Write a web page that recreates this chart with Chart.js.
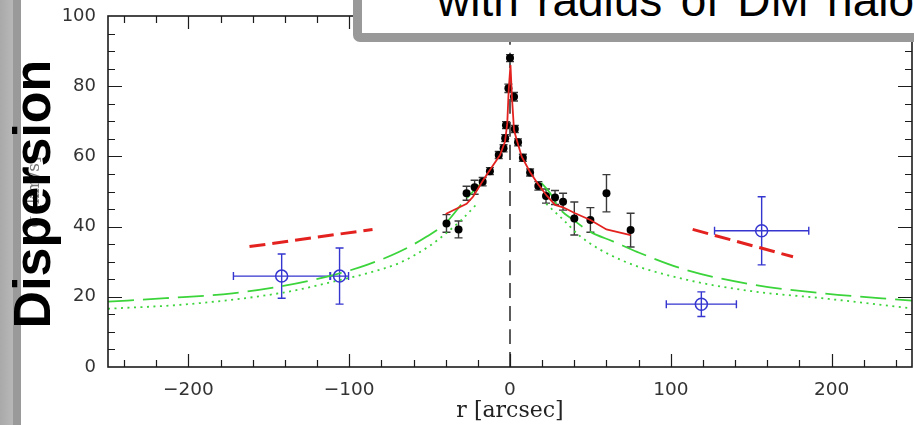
<!DOCTYPE html>
<html><head><meta charset="utf-8">
<script src="https://cdn.jsdelivr.net/npm/chart.js@4"></script>
<style>
html,body{margin:0;padding:0;background:#fff;overflow:hidden}
#wrap{position:relative;width:914px;height:425px;overflow:hidden;background:#fff}
#c{position:absolute;left:0;top:0}
#band1{position:absolute;left:0;top:0;width:13px;height:425px;background:linear-gradient(to right,#a9a9a9,#b8b8b8)}
#band2{position:absolute;left:13px;top:0;width:8px;height:425px;background:#9a9a9a}
#ylab{position:absolute;left:-67px;top:181px;width:200px;height:22px;line-height:22px;text-align:center;font-family:"DejaVu Serif";font-size:17px;color:#777;transform:rotate(-90deg);transform-origin:center}
#disp{position:absolute;left:-118px;top:168px;width:300px;height:52px;line-height:52px;text-align:center;font-family:"Liberation Sans",Arial,sans-serif;font-weight:bold;font-size:52px;color:#000;transform:rotate(-90deg);transform-origin:center;white-space:nowrap}
#box{position:absolute;left:353px;top:-40px;width:620px;height:64px;border:9px solid #999;border-radius:7px;background:#fff}
#title{position:absolute;left:437px;top:-23px;height:46px;line-height:46px;font-family:"Liberation Sans",Arial,sans-serif;font-size:46px;word-spacing:5.5px;color:#000;white-space:nowrap}
</style></head>
<body><div id="wrap">
<canvas id="c" width="914" height="425"></canvas>
<div id="band1"></div><div id="band2"></div>
<div id="ylab">σ [km/s]</div>
<div id="disp">Dispersion</div>
<div id="box"></div>
<div id="title">with radius of DM halo</div>
</div>
<script>
// ---- data ----
const obsR   = [-39.5,-32,-27,-22,-17,-12.5,-7,-4,-3,-2.5,-1,0,2.5,3,5,8,12.5,17.6,22.4,28,33,40,50,60,75];
const obsSig = [40.9,39.2,49.5,51.2,52.8,55.8,60.4,62.3,65.2,68.9,79.4,88,77,67.8,64,59.6,55.4,51.6,48.7,48.3,47.1,42.3,41.9,49.5,39];
const obsErr = [2.5,2.4,2,2,1.2,1,1,1,1,1,1.2,1,1.2,1,1,1,1,1.2,2,2,2.4,4.7,3.5,5.3,4.8];

const gcR      = [-142,-106,119,156.5];
const gcSig    = [25.9,25.9,17.9,38.8];
const gcErrR   = [30,5.6,21.8,29.3];
const gcErrSig = [6.3,8,3.5,9.7];

const modelR   = [-40,-27,-23,-16.6,-12.5,-6.2,-3.1,-1.7,-0.8,0.3,1.2,2.5,4.2,7.3,12.5,17.6,22.9,28,33,40.5,50,60,75];
const modelSig = [43.6,46.5,48.5,53.3,56.1,60.4,64.2,69.4,79,86,77,67.5,64.7,59.9,55.5,52,48.8,46.2,45.5,43.8,41.9,39.2,37.6];

const dashLeftR = [-162,-85.5],  dashLeftSig = [34.3,39.2];
const dashRightR = [113.6,176],  dashRightSig = [39.2,31.4];

const greenDashLeftR   = [-250,-214,-172.6,-141,-110,-89,-68.5,-52,-40,-29,-23,-18];
const greenDashLeftSig = [18.6,19.6,21,23.1,26.2,29.1,32.9,37.1,41,47,50,52.3];
const greenDashRightR   = [19.5,25,31,39.4,50,64,79,110,152,194,250];
const greenDashRightSig = [52.5,49.5,45,41.9,38.5,35.8,32.8,27.6,23.4,21,18.9];

const greenDotLeftR   = [-250,-200,-141,-110,-89,-68.5,-50,-40,-30,-20.5];
const greenDotLeftSig = [16.6,17.9,21.2,24.3,26.7,29.7,34.5,38,42,46.5];
const greenDotRightR   = [22.5,33,44,69,110.5,152,194,250];
const greenDotRightSig = [46.5,42,37.1,30.5,24.8,21.5,19.6,16.7];

const centreLineR = [0,0], centreLineSig = [0,100];

const xTickLabels = [-200,-100,0,100,200];
const yTickLabels = [0,20,40,60,80,100];

// ---- helpers ----
const pts = (xs, ys) => xs.map((v,i)=>({x:v,y:ys[i]}));
const RED = '#e3221f', GREEN = '#3bd43b', BLUE = '#3535d0';

const errorBars = {
  id:'errorBars',
  beforeDatasetsDraw(chart){
    const {ctx, scales:{x,y}} = chart;
    ctx.save();
    ctx.lineWidth = 1.4; ctx.strokeStyle = '#3a3a3a';
    ctx.beginPath();
    obsR.forEach((r,i)=>{
      const px = x.getPixelForValue(r);
      const y1 = y.getPixelForValue(obsSig[i]+obsErr[i]);
      const y2 = y.getPixelForValue(obsSig[i]-obsErr[i]);
      ctx.moveTo(px,y1); ctx.lineTo(px,y2);
      ctx.moveTo(px-4,y1); ctx.lineTo(px+4,y1);
      ctx.moveTo(px-4,y2); ctx.lineTo(px+4,y2);
    });
    ctx.stroke();
    ctx.strokeStyle = BLUE; ctx.lineWidth = 1.4;
    ctx.beginPath();
    gcR.forEach((r,i)=>{
      const px = x.getPixelForValue(r), py = y.getPixelForValue(gcSig[i]);
      const y1 = y.getPixelForValue(gcSig[i]+gcErrSig[i]);
      const y2 = y.getPixelForValue(gcSig[i]-gcErrSig[i]);
      const x1 = x.getPixelForValue(r-gcErrR[i]);
      const x2 = x.getPixelForValue(r+gcErrR[i]);
      ctx.moveTo(px,y1); ctx.lineTo(px,y2);
      ctx.moveTo(px-4,y1); ctx.lineTo(px+4,y1);
      ctx.moveTo(px-4,y2); ctx.lineTo(px+4,y2);
      ctx.moveTo(x1,py); ctx.lineTo(x2,py);
      ctx.moveTo(x1,py-4); ctx.lineTo(x1,py+4);
      ctx.moveTo(x2,py-4); ctx.lineTo(x2,py+4);
    });
    ctx.stroke();
    ctx.restore();
  }
};

const frame = {
  id:'frame',
  afterDatasetsDraw(chart){
    const {ctx, chartArea:{left,right,top,bottom}, scales:{x,y}} = chart;
    ctx.save();
    ctx.strokeStyle = '#1c1c1c';
    ctx.lineWidth = 1.6;
    ctx.strokeRect(left, top, right-left, bottom-top);
    ctx.lineWidth = 1.2;
    ctx.beginPath();
    for (let v=-240; v<=240; v+=20){
      const px = Math.round(x.getPixelForValue(v))+0.5;
      const len = xTickLabels.includes(v) ? 13 : 7;
      ctx.moveTo(px,bottom); ctx.lineTo(px,bottom-len);
      ctx.moveTo(px,top); ctx.lineTo(px,top+len);
    }
    for (let v=5; v<100; v+=5){
      const py = Math.round(y.getPixelForValue(v))+0.5;
      const len = yTickLabels.includes(v) ? 14 : 7;
      ctx.moveTo(left,py); ctx.lineTo(left+len,py);
      ctx.moveTo(right,py); ctx.lineTo(right-len,py);
    }
    ctx.stroke();
    ctx.restore();
  }
};

const line = (data, color, width, dash, order, extra={}) => Object.assign({
  data, showLine:true, borderColor:color, borderWidth:width, borderDash:dash,
  pointRadius:0, fill:false, order, cubicInterpolationMode:'monotone'
}, extra);

const noPad = s => { s.paddingLeft = 0; s.paddingRight = 0; s.paddingTop = 0; s.paddingBottom = 0; };

new Chart(document.getElementById('c'), {
  type:'scatter',
  data:{ datasets:[
    line(pts(centreLineR,centreLineSig), '#4a4a4a', 1.8, [15,8], 10),
    line(pts(greenDotLeftR,greenDotLeftSig), GREEN, 1.8, [2,4.5], 9),
    line(pts(greenDotRightR,greenDotRightSig), GREEN, 1.8, [2,4.5], 9),
    line(pts(greenDashLeftR,greenDashLeftSig), GREEN, 1.8, [26,9], 8),
    line(pts(greenDashRightR,greenDashRightSig), GREEN, 1.8, [26,9], 8),
    line(pts(dashLeftR,dashLeftSig), RED, 3, [16,7], 7),
    line(pts(dashRightR,dashRightSig), RED, 3, [16,7], 7),
    { data: pts(obsR,obsSig), pointRadius:4, pointBackgroundColor:'#000', pointBorderWidth:0, showLine:false, order:6 },
    line(pts(modelR,modelSig), RED, 1.8, [], 5, {cubicInterpolationMode:'default', tension:0}),
    { data: pts(gcR,gcSig), pointRadius:6, pointBackgroundColor:'rgba(0,0,0,0)', pointBorderColor:BLUE, pointBorderWidth:1.5, showLine:false, order:4 }
  ]},
  options:{
    responsive:false, animation:false, devicePixelRatio:1,
    layout:{autoPadding:false, padding:{left:0,right:2,top:16,bottom:0}},
    plugins:{legend:{display:false}, tooltip:{enabled:false}},
    scales:{
      x:{ type:'linear', min:-250, max:250,
        grid:{display:false, drawTicks:false}, border:{display:false},
        afterBuildTicks:s=>{ s.ticks = xTickLabels.map(v=>({value:v})); },
        ticks:{ font:{family:'DejaVu Sans', size:18.5}, color:'#333', padding:12,
          callback:v=> v<0 ? '\u2212'+Math.abs(v) : String(v) },
        title:{display:true, text:'r [arcsec]', font:{family:'DejaVu Serif', size:22}, color:'#222', padding:{top:0,bottom:1}},
        afterFit:s=>{ s.height = 58; noPad(s); }
      },
      y:{ type:'linear', min:0, max:100,
        grid:{display:false, drawTicks:false}, border:{display:false},
        afterBuildTicks:s=>{ s.ticks = yTickLabels.map(v=>({value:v})); },
        ticks:{ font:{family:'DejaVu Sans', size:18}, color:'#333', padding:12 },
        afterFit:s=>{ s.width = 108; noPad(s); }
      }
    }
  },
  plugins:[errorBars, frame]
});
</script>
</body></html>
